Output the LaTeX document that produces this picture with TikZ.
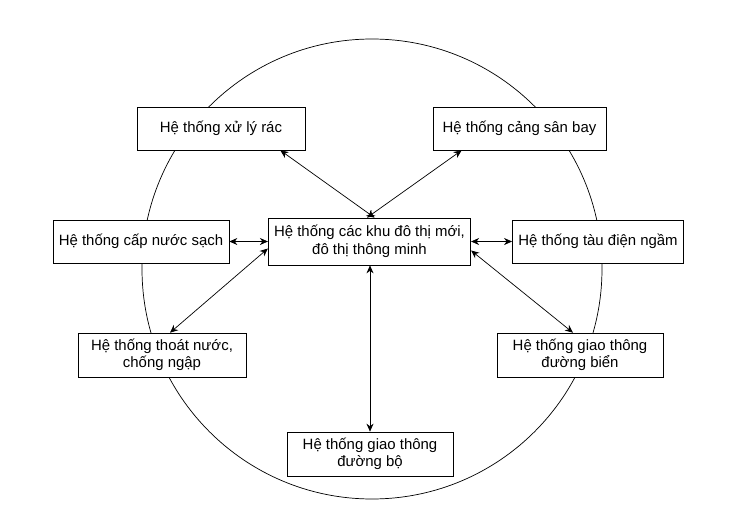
\documentclass[tikz,border=0pt]{standalone}
\usepackage{fontspec}
\setmainfont{Liberation Sans}
\usetikzlibrary{arrows.meta}
\begin{document}
\begin{tikzpicture}[every node/.style={rectangle, draw, font=\fontsize{8.5}{10}\selectfont, align=center, minimum height=0.86cm, fill=white},
  link/.style={{Stealth[length=1.6mm,width=1.4mm]}-{Stealth[length=1.6mm,width=1.4mm]}, thin}]
      \useasboundingbox (0,0) rectangle (15,10.12);
      \draw[thin] (7.44,4.74) circle (4.6);
      \node (center) at (7.39,5.29) [minimum width=3.86cm, minimum height=0.94cm] {Hệ thống các khu đô thị mới,\\đô thị thông minh};
      \node (rac) at (4.42,7.55) [minimum width=3.36cm] {Hệ thống xử lý rác};
      \node (bay) at (10.39,7.55) [minimum width=3.46cm] {Hệ thống cảng sân bay};
      \node (nuoc) at (2.82,5.29) [minimum width=3.4cm] {Hệ thống cấp nước sạch};
      \node (tau) at (11.96,5.29) [minimum width=3.32cm] {Hệ thống tàu điện ngầm};
      \node (thoat) at (3.24,3.02) [minimum width=3.36cm] {Hệ thống thoát nước,\\chống ngập};
      \node (bien) at (11.6,3.02) [minimum width=3.32cm] {Hệ thống giao thông\\đường biển};
      \node (bo) at (7.4,1.04) [minimum width=3.32cm, minimum height=0.88cm] {Hệ thống giao thông\\đường bộ};
      \draw[link] ([xshift=-0.5cm]rac.south east) -- ([xshift=0.1cm]center.north);
      \draw[link] ([xshift=0.58cm]bay.south west) -- ([xshift=-0.05cm]center.north);
      \draw[link] (nuoc) -- (center);
      \draw[link] (tau) -- (center);
      \draw[link] ([xshift=0.16cm]thoat.north) -- ([yshift=-0.14cm]center.west);
      \draw[link] ([xshift=-0.14cm]bien.north) -- ([yshift=-0.18cm]center.east);
      \draw[link] (bo) -- (bo |- center.south);
\end{tikzpicture}
\end{document}
